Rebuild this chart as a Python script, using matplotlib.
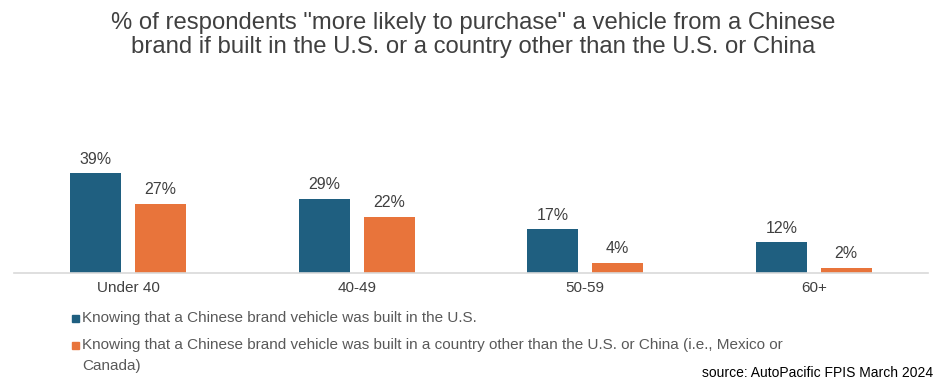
import matplotlib.pyplot as plt
from matplotlib.patches import Rectangle
import numpy as np

categories = ['Under 40', '40-49', '50-59', '60+']
built_us = [39, 29, 17, 12]
built_other = [27, 22, 4, 2]
series_labels = [
    ['Knowing that a Chinese brand vehicle was built in the U.S.'],
    ['Knowing that a Chinese brand vehicle was built in a country other than the U.S. or China (i.e., Mexico or',
     'Canada)'],
]
title = ('% of respondents "more likely to purchase" a vehicle from a Chinese\n'
         'brand if built in the U.S. or a country other than the U.S. or China')
source = 'source: AutoPacific FPIS March 2024'

BLUE = '#1f5f80'
ORANGE = '#e8743b'
GREY = '#404040'

plt.rcParams['font.family'] = ['Liberation Sans', 'DejaVu Sans']

fig = plt.figure(figsize=(9.47, 3.89), dpi=100)
ax = fig.add_axes([14 / 947, 116 / 389, 914 / 947, 128 / 389])

x = np.arange(len(categories))
w = 0.223
off = 0.142
b1 = ax.bar(x - off, built_us, w, color=BLUE)
b2 = ax.bar(x + off, built_other, w, color=ORANGE)

for bars, vals in ((b1, built_us), (b2, built_other)):
    for b, v in zip(bars, vals):
        ax.text(b.get_x() + b.get_width() / 2, v + 2.5, f'{v}%',
                ha='center', va='bottom', fontsize=11.5, color=GREY)

ax.set_xlim(-0.5, len(categories) - 0.5)
ax.set_ylim(0, 50)
ax.set_xticks(x)
ax.set_xticklabels(categories, fontsize=11, color=GREY)
ax.tick_params(axis='x', length=0, pad=6)
ax.set_yticks([])
for s in ['top', 'right', 'left']:
    ax.spines[s].set_visible(False)
ax.spines['bottom'].set_color('#d9d9d9')
ax.spines['bottom'].set_linewidth(1.2)

fig.text(0.5, 1 - 35 / 389, title, ha='center', va='center', fontsize=17.2,
         color=GREY, linespacing=1.12)

for ypix, color, lines in ((318, BLUE, series_labels[0]), (345, ORANGE, series_labels[1])):
    fig.patches.append(Rectangle((72 / 947, 1 - (ypix + 4) / 389), 7 / 947, 7 / 389,
                                 transform=fig.transFigure, color=color))
    for i, line in enumerate(lines):
        fig.text(82 / 947, 1 - (ypix + i * 21) / 389, line, ha='left', va='center',
                 fontsize=11, color='#595959')

fig.text(933 / 947, 1 - 373 / 389, source, ha='right', va='center',
         fontsize=10, color='black')

fig.savefig('out.png', dpi=100)
